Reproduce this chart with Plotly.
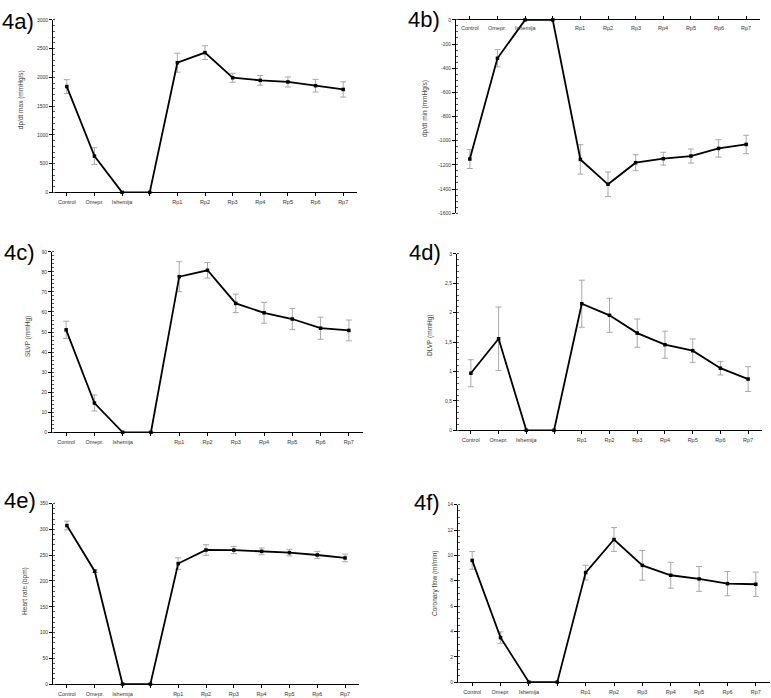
import plotly.graph_objects as go

categories = ["Control", "Omepr.", "Ishemija", "", "Rp1", "Rp2", "Rp3", "Rp4", "Rp5", "Rp6", "Rp7"]

dpdt_max = [1840, 630, 0, 0, 2255, 2430, 1993, 1948, 1920, 1855, 1790]
dpdt_max_err = [120, 145, None, None, 165, 120, 78, 85, 87, 110, 133]

dpdt_min = [-1152, -318, 0, 0, -1155, -1361, -1182, -1149, -1127, -1064, -1031]
dpdt_min_err = [78, 71, None, None, 122, 102, 66, 53, 58, 72, 76]

slvp = [51.1, 14.6, 0, 0, 77.6, 80.8, 64.3, 59.6, 56.5, 51.9, 50.8]
slvp_err = [4.3, 4.0, None, None, 7.5, 3.9, 4.6, 5.2, 5.3, 5.5, 5.2]

dlvp = [0.97, 1.556, 0, 0, 2.152, 1.955, 1.652, 1.455, 1.354, 1.056, 0.871]
dlvp_err = [0.23, 0.54, None, None, 0.40, 0.29, 0.24, 0.23, 0.20, 0.115, 0.21]

heart_rate = [307.6, 219, 0, 0, 233.8, 260.1, 260, 257.5, 255, 250.4, 244.7]
heart_rate_err = [8.5, 2.6, None, None, 11.2, 10.3, 7, 6.5, 6.4, 7, 7.4]

coronary_flow = [9.60, 3.51, 0, 0, 8.64, 11.25, 9.21, 8.43, 8.14, 7.77, 7.72]
coronary_flow_err = [0.70, 0.45, None, None, 0.58, 0.94, 1.17, 1.02, 0.98, 0.96, 0.96]

panels = [
    # label, ytitle, values, errors, range, minor step, tick values, tick labels
    ("4a)", "dp/dt max (mmHg/s)", dpdt_max, dpdt_max_err, [0, 3000], 100,
     [0, 500, 1000, 1500, 2000, 2500, 3000], ["0", "500", "1000", "1500", "2000", "2500", "3000"]),
    ("4b)", "dp/dt min (mmHg/s)", dpdt_min, dpdt_min_err, [-1600, 0], 50,
     [-1600, -1400, -1200, -1000, -800, -600, -400, -200, 0],
     ["-1600", "-1400", "-1200", "-1000", "-800", "-600", "-400", "-200", "0"]),
    ("4c)", "SLVP (mmHg)", slvp, slvp_err, [0, 90], 2,
     [0, 10, 20, 30, 40, 50, 60, 70, 80, 90], ["0", "10", "20", "30", "40", "50", "60", "70", "80", "90"]),
    ("4d)", "DLVP (mmHg)", dlvp, dlvp_err, [0, 3], 0.1,
     [0, 0.5, 1, 1.5, 2, 2.5, 3], ["0", "0,5", "1", "1,5", "2", "2,5", "3"]),
    ("4e)", "Heart rate (bpm)", heart_rate, heart_rate_err, [0, 350], 10,
     [0, 50, 100, 150, 200, 250, 300, 350], ["0", "50", "100", "150", "200", "250", "300", "350"]),
    ("4f)", "Coronary flow (ml/min)", coronary_flow, coronary_flow_err, [0, 14], 0.5,
     [0, 2, 4, 6, 8, 10, 12, 14], ["0", "2", "4", "6", "8", "10", "12", "14"]),
]

W, H = 771, 698
# pixel boxes: (left, right, top, bottom)
boxes = [
    (53, 357, 17, 191),
    (456, 760, 17, 212),
    (52, 363, 251, 433),
    (457, 762, 253, 431),
    (53, 359, 505, 687),
    (458, 770, 506, 685),
]
label_pos = [(0, 4), (406, 2), (2, 237), (407, 237), (2, 487), (412, 489)]
title_pos = [(21, 98), (425, 107), (28, 337), (430, 335), (25, 593), (435, 586)]

FONT = "Liberation Sans, Arial, sans-serif"
fig = go.Figure()
annotations = []
xs = list(range(len(categories)))

for i, (lab, ytitle, vals, errs, yr, minor_step, tvals, ttext) in enumerate(panels):
    n = "" if i == 0 else str(i + 1)
    l, r, t, b = boxes[i]
    fig.add_trace(go.Scatter(
        x=xs, y=vals, mode="lines+markers",
        line=dict(color="black", width=1.8),
        marker=dict(symbol="square", size=3.5, color="black"),
        error_y=dict(type="data", array=errs, visible=True, color="#a8a8a8", thickness=1, width=3),
        cliponaxis=False, showlegend=False,
        xaxis="x" + n, yaxis="y" + n,
    ))
    top_axis = yr[1] == 0
    fig.layout["xaxis" + n] = dict(
        domain=[l / W, r / W], range=[-0.5, 10.5], anchor="y" + n,
        tickmode="array", tickvals=xs, ticktext=categories,
        showticklabels=not top_axis,
        showline=True, linecolor="black", linewidth=1,
        ticks="outside", ticklen=3, tickcolor="black",
        showgrid=False, zeroline=False,
        tickfont=dict(family=FONT, size=5.5, color="#333"),
        side="top" if top_axis else "bottom",
        ticklabelstandoff=1,
        fixedrange=True,
    )
    fig.layout["yaxis" + n] = dict(
        domain=[1 - b / H, 1 - t / H], range=yr, anchor="x" + n,
        tickmode="array", tickvals=tvals, ticktext=ttext,
        showline=True, linecolor="black", linewidth=1,
        ticks="outside", ticklen=3, tickcolor="black",
        minor=dict(tickmode="linear", tick0=0, dtick=minor_step, ticks="inside",
                   ticklen=2, tickcolor="#555"),
        showgrid=False, zeroline=False,
        tickfont=dict(family=FONT, size=5, color="#333"),
        fixedrange=True,
    )
    if top_axis:
        for xi, cat in zip(xs, categories):
            annotations.append(dict(text=cat, x=xi, y=0, xref="x" + n, yref="y" + n,
                                    xanchor="center", yanchor="top", yshift=-3, showarrow=False,
                                    font=dict(family=FONT, size=5.5, color="#333")))
    lx, ly = label_pos[i]
    annotations.append(dict(text=lab, x=lx / W, y=1 - ly / H, xref="paper", yref="paper",
                            xanchor="left", yanchor="top", showarrow=False,
                            font=dict(family=FONT, size=22, color="black")))
    tx, ty = title_pos[i]
    annotations.append(dict(text=ytitle, x=tx / W, y=1 - ty / H, xref="paper", yref="paper",
                            xanchor="center", yanchor="middle", showarrow=False, textangle=-90,
                            font=dict(family=FONT, size=6.5, color="#444")))

fig.update_layout(
    width=W, height=H, autosize=False,
    margin=dict(l=0, r=0, t=0, b=0),
    paper_bgcolor="white", plot_bgcolor="white",
    annotations=annotations,
)

fig.write_html("out.html", config={"displayModeBar": False},
               post_script="document.body.style.margin='0';")
